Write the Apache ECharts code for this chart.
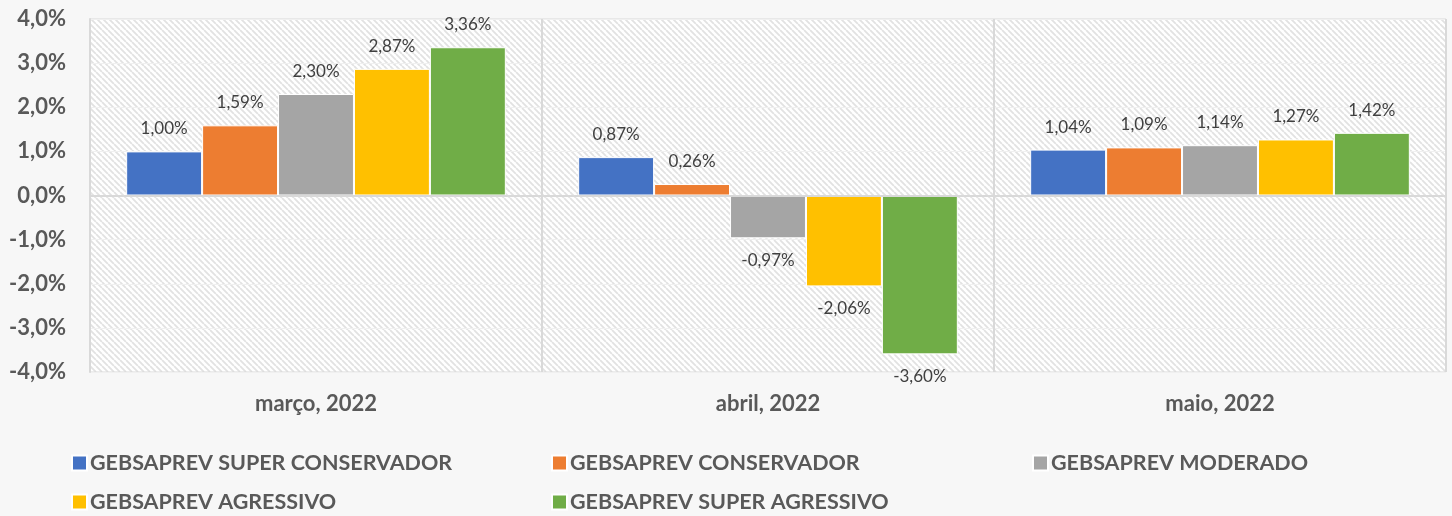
<!DOCTYPE html>
<html>
<head>
<meta charset="utf-8">
<script src="https://cdn.jsdelivr.net/npm/echarts@6/dist/echarts.min.js"></script>
<style>
  html, body { margin: 0; padding: 0; background: #f7f7f7; }
  #chart { width: 1452px; height: 516px; }
</style>
</head>
<body>
<div id="chart"></div>
<script>
// dados
const categories = ['março, 2022', 'abril, 2022', 'maio, 2022']
const seriesNames = [
  'GEBSAPREV SUPER CONSERVADOR',
  'GEBSAPREV CONSERVADOR',
  'GEBSAPREV MODERADO',
  'GEBSAPREV AGRESSIVO',
  'GEBSAPREV SUPER AGRESSIVO'
]
const superConservador = [1.00, 0.87, 1.04]
const conservador = [1.59, 0.26, 1.09]
const moderado = [2.30, -0.97, 1.14]
const agressivo = [2.87, -2.06, 1.27]
const superAgressivo = [3.36, -3.60, 1.42]
const yTicks = [-4, -3, -2, -1, 0, 1, 2, 3, 4]

const values = [superConservador, conservador, moderado, agressivo, superAgressivo]
const palette = ['#4472c4', '#ed7d31', '#a5a5a5', '#ffc000', '#70ad47']
const font = 'Lato, "Open Sans", sans-serif'

// padrão hachurado do fundo da área de plotagem
function hatch() {
  const c = document.createElement('canvas')
  c.width = 6
  c.height = 6
  const ctx = c.getContext('2d')
  ctx.fillStyle = '#ffffff'
  ctx.fillRect(0, 0, 6, 6)
  ctx.strokeStyle = '#e2e2e2'
  ctx.lineWidth = 1.8
  ctx.beginPath()
  for (let k = -6; k <= 12; k += 6) {
    ctx.moveTo(k, 0)
    ctx.lineTo(k + 6, 6)
  }
  ctx.stroke()
  return c
}

function pct(v, d) {
  return v.toFixed(d).replace('.', ',') + '%'
}

const chart = echarts.init(document.getElementById('chart'))

const legendLeft = [66, 546, 1027, 66, 546]
const legendTop = [447, 447, 447, 486, 486]

chart.setOption({
  backgroundColor: '#f7f7f7',
  color: palette,
  animation: false,
  textStyle: { fontFamily: font },
  grid: {
    left: 90, right: 6, top: 19, bottom: 144,
    show: true,
    backgroundColor: { image: hatch(), repeat: 'repeat' },
    borderColor: '#d9d9d9',
    borderWidth: 1
  },
  legend: seriesNames.map((n, i) => ({
    data: [n],
    left: legendLeft[i],
    top: legendTop[i],
    icon: 'rect',
    itemWidth: 15,
    itemHeight: 15,
    itemGap: 6,
    textStyle: { color: '#595959', fontSize: 21.5, fontWeight: 'bold', fontFamily: font, padding: [0, 0, 0, -2] }
  })),
  xAxis: {
    type: 'category',
    data: categories,
    axisLine: { onZero: false, show: false },
    axisTick: { show: false },
    axisLabel: { color: '#595959', fontSize: 22, fontWeight: 'bold', margin: 21 },
    splitLine: { show: true, lineStyle: { color: '#d9d9d9', width: 2 } }
  },
  yAxis: {
    type: 'value',
    min: yTicks[0],
    max: yTicks[yTicks.length - 1],
    interval: 1,
    axisLine: { show: true, lineStyle: { color: '#d9d9d9', width: 2 } },
    axisTick: { show: false },
    axisLabel: {
      color: '#595959', fontSize: 22, fontWeight: 'bold', margin: 24,
      formatter: (v) => pct(v, 1)
    },
    splitLine: { show: true, lineStyle: { color: '#f0f0f0', width: 1 } }
  },
  series: values.map((d, i) => ({
    name: seriesNames[i],
    type: 'bar',
    data: d.map((v) => ({ value: v, label: { position: v < 0 ? 'bottom' : 'top' } })),
    barGap: '0%',
    barCategoryGap: '16%',
    itemStyle: { borderColor: '#ffffff', borderWidth: 1 },
    label: {
      show: true,
      distance: 14,
      color: '#404040',
      fontSize: 17,
      formatter: (p) => pct(p.value, 2)
    },
    markLine: i === 0 ? {
      silent: true,
      symbol: 'none',
      label: { show: false },
      lineStyle: { color: '#d9d9d9', width: 2, type: 'solid' },
      data: [{ yAxis: 0 }]
    } : undefined
  }))
})
</script>
</body>
</html>
